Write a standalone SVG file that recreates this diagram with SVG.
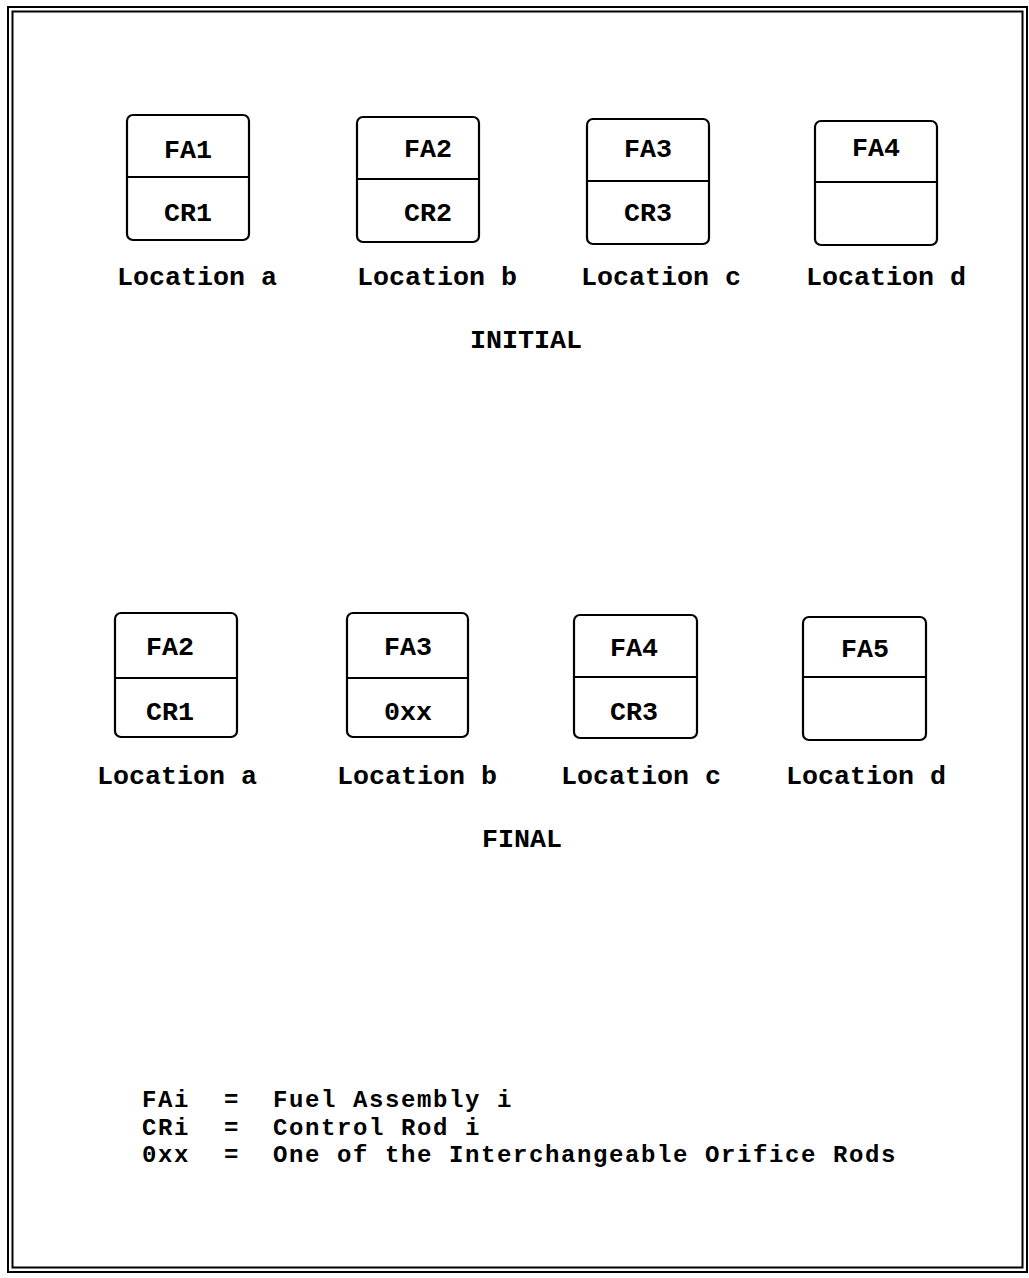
<svg xmlns="http://www.w3.org/2000/svg" width="1029" height="1278" viewBox="0 0 1029 1278">
<style>
.bx{fill:none;stroke:#000;stroke-width:2.2}
.dv{stroke:#000;stroke-width:2.2}
.brd{fill:none;stroke:#000;stroke-width:2}
text{font-family:"Liberation Mono","Courier New",monospace;font-weight:bold;font-size:26.7px;fill:#000}
.c{text-anchor:middle}
.lg{font-size:24px;letter-spacing:1.6px}
</style>
<rect width="1029" height="1278" fill="#fff"/>
<g id="border">
<rect class="brd" x="8" y="7" width="1019" height="1265"/>
<rect class="brd" x="12.5" y="11.5" width="1010" height="1256"/>
</g>
<g id="connectors"></g>
<g id="initial-a">
<rect class="bx" x="127" y="115" width="122" height="125" rx="6"/>
<line class="dv" x1="127" y1="177" x2="249" y2="177"/>
<text class="c" x="188" y="158">FA1</text>
<text class="c" x="188" y="221">CR1</text>
<text class="c" x="197" y="285">Location a</text>
</g>
<g id="initial-b">
<rect class="bx" x="357" y="117" width="122" height="125" rx="6"/>
<line class="dv" x1="357" y1="179" x2="479" y2="179"/>
<text class="c" x="428" y="157">FA2</text>
<text class="c" x="428" y="221">CR2</text>
<text class="c" x="437" y="285">Location b</text>
</g>
<g id="initial-c">
<rect class="bx" x="587" y="119" width="122" height="125" rx="6"/>
<line class="dv" x1="587" y1="181" x2="709" y2="181"/>
<text class="c" x="648" y="157">FA3</text>
<text class="c" x="648" y="221">CR3</text>
<text class="c" x="661" y="285">Location c</text>
</g>
<g id="initial-d">
<rect class="bx" x="815" y="121" width="122" height="124" rx="6"/>
<line class="dv" x1="815" y1="182" x2="937" y2="182"/>
<text class="c" x="876" y="156">FA4</text>
<text class="c" x="886" y="285">Location d</text>
</g>
<g id="label-initial">
<text class="c" x="526" y="348">INITIAL</text>
</g>
<g id="final-a">
<rect class="bx" x="115" y="613" width="122" height="124" rx="6"/>
<line class="dv" x1="115" y1="678" x2="237" y2="678"/>
<text class="c" x="170" y="655">FA2</text>
<text class="c" x="170" y="720">CR1</text>
<text class="c" x="177" y="784">Location a</text>
</g>
<g id="final-b">
<rect class="bx" x="347" y="613" width="121" height="124" rx="6"/>
<line class="dv" x1="347" y1="678" x2="468" y2="678"/>
<text class="c" x="408" y="655">FA3</text>
<text class="c" x="408" y="720">0xx</text>
<text class="c" x="417" y="784">Location b</text>
</g>
<g id="final-c">
<rect class="bx" x="574" y="615" width="123" height="123" rx="6"/>
<line class="dv" x1="574" y1="677" x2="697" y2="677"/>
<text class="c" x="634" y="656">FA4</text>
<text class="c" x="634" y="720">CR3</text>
<text class="c" x="641" y="784">Location c</text>
</g>
<g id="final-d">
<rect class="bx" x="803" y="617" width="123" height="123" rx="6"/>
<line class="dv" x1="803" y1="677" x2="926" y2="677"/>
<text class="c" x="865" y="657">FA5</text>
<text class="c" x="866" y="784">Location d</text>
</g>
<g id="label-final">
<text class="c" x="522" y="847">FINAL</text>
</g>
<g id="legend">
<text class="lg" x="142" y="1107">FAi</text>
<text class="lg" x="224" y="1107">=</text>
<text class="lg" x="273" y="1107">Fuel Assembly i</text>
<text class="lg" x="142" y="1135">CRi</text>
<text class="lg" x="224" y="1135">=</text>
<text class="lg" x="273" y="1135">Control Rod i</text>
<text class="lg" x="142" y="1162">0xx</text>
<text class="lg" x="224" y="1162">=</text>
<text class="lg" x="273" y="1162">One of the Interchangeable Orifice Rods</text>
</g>
</svg>
